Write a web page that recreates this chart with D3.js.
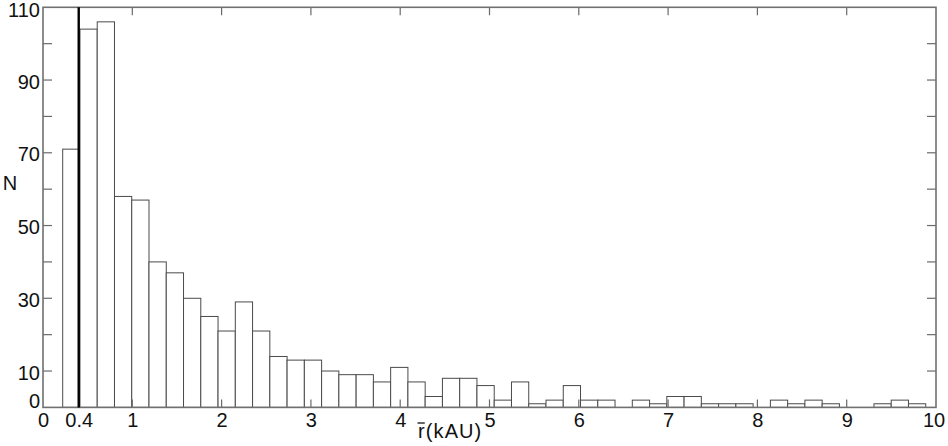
<!DOCTYPE html>
<html>
<head>
<meta charset="utf-8">
<script src="https://cdn.jsdelivr.net/npm/d3@7"></script>
<style>
  html, body { margin: 0; padding: 0; background: #fff; }
  svg { display: block; }
  text { font-family: "Liberation Sans", Arial, sans-serif; fill: #111; }
</style>
</head>
<body>
<svg id="chart" width="948" height="446"></svg>
<script>
// ---- data ----
const counts = [71, 104, 106, 58, 57, 40, 37, 30, 25, 21,
                29, 21, 14, 13, 13, 10, 9, 9, 7, 11,
                7, 3, 8, 8, 6, 2, 7, 1, 2, 6,
                2, 2, 0, 2, 1, 3, 3, 1, 1, 1,
                0, 2, 1, 2, 1, 0, 0, 1, 2, 1];
const binRange = [0.2206, 9.885];          // first left edge, last right edge (kAU)
const xTickValues = [0, 1, 2, 3, 4, 5, 6, 7, 8, 9, 10];
const xTickLabels = ["0", "1", "2", "3", "4", "5", "6", "7", "8", "9", "10"];
const extraXLabel = [0.4];                // labelled marker line
const yTickValues = [0, 10, 20, 30, 40, 50, 60, 70, 80, 90, 100, 110];
const yLabelValues = [0, 10, 30, 50, 70, 90, 110];
const markerLine = 0.4;
const xDomain = [0, 10];
const yDomain = [0, 110];

(function () {
// ---- layout ----
const svg = d3.select("#chart");
const mLeft = 43, mRight = 936, mTop = 7.3, mBottom = 407.4;
const x = d3.scaleLinear().domain(xDomain).range([mLeft, mRight]);
const y = d3.scaleLinear().domain(yDomain).range([mBottom, mTop]);

const nb = counts.length;
const bw = (binRange[1] - binRange[0]) / nb;
const bins = counts.map((c, i) => ({x0: binRange[0] + i * bw, x1: binRange[0] + (i + 1) * bw, n: c}));

// bars
svg.append("g").selectAll("rect")
  .data(bins.filter(d => d.n > 0))
  .join("rect")
  .attr("x", d => x(d.x0))
  .attr("width", d => x(d.x1) - x(d.x0))
  .attr("y", d => y(d.n))
  .attr("height", d => y(0) - y(d.n))
  .attr("fill", "#fff")
  .attr("stroke", "#4a4a4a")
  .attr("stroke-width", 1);

// inward ticks
const tickColor = "#6a6a6a";
const tlen = 8;
const tg = svg.append("g").attr("stroke", tickColor).attr("stroke-width", 1.2);
xTickValues.filter(v => v > xDomain[0] && v < xDomain[1]).forEach(v => {
  tg.append("line").attr("x1", x(v)).attr("x2", x(v)).attr("y1", y(0)).attr("y2", y(0) - tlen);
  tg.append("line").attr("x1", x(v)).attr("x2", x(v)).attr("y1", y(110)).attr("y2", y(110) + tlen);
});
yTickValues.filter(v => v > yDomain[0] && v < yDomain[1]).forEach(v => {
  tg.append("line").attr("x1", x(0)).attr("x2", x(0) + tlen + 1).attr("y1", y(v)).attr("y2", y(v));
  tg.append("line").attr("x1", x(10)).attr("x2", x(10) - tlen - 1).attr("y1", y(v)).attr("y2", y(v));
});

// frame
svg.append("rect")
  .attr("x", x(0)).attr("y", y(110))
  .attr("width", x(10) - x(0)).attr("height", y(0) - y(110))
  .attr("fill", "none").attr("stroke", "#707070").attr("stroke-width", 1.6);

// marker line at 0.4
svg.append("line")
  .attr("x1", x(markerLine)).attr("x2", x(markerLine))
  .attr("y1", y(110)).attr("y2", y(0))
  .attr("stroke", "#000").attr("stroke-width", 2.4);

// x tick labels
const fs = 20;
const xl = svg.append("g").attr("font-size", fs).attr("text-anchor", "middle");
xTickValues.forEach((v, i) => {
  xl.append("text").attr("x", x(v) + (v === 10 ? -2 : 0.5)).attr("y", 427).text(xTickLabels[i]);
});
extraXLabel.forEach(v => {
  xl.append("text").attr("x", x(v) + 0.5).attr("y", 427).text(String(v));
});

// y tick labels
const yl = svg.append("g").attr("font-size", fs).attr("text-anchor", "end");
yLabelValues.forEach(v => {
  const dy = v === 0 ? 1 : 8.5;
  const yy = v === 110 ? y(v) + 10 : y(v) + dy;
  yl.append("text").attr("x", 40).attr("y", yy).text(String(v));
});

// axis titles
svg.append("text").attr("x", 10).attr("y", 190).attr("font-size", 20)
  .attr("text-anchor", "middle").text("N");

const xt = svg.append("text").attr("x", 418).attr("y", 438).attr("font-size", 20)
  .attr("letter-spacing", 1.1);
xt.append("tspan").text("r");
xt.append("tspan").text("(kAU)");
// overline over the r, from the rendered glyph extent
const tn = xt.node();
const s0 = tn.getStartPositionOfChar(0), e0 = tn.getEndPositionOfChar(0);
svg.append("line")
  .attr("x1", s0.x - 0.5).attr("x2", e0.x - 1)
  .attr("y1", s0.y - 15).attr("y2", s0.y - 15)
  .attr("stroke", "#111").attr("stroke-width", 1.3);
})();
</script>
</body>
</html>
